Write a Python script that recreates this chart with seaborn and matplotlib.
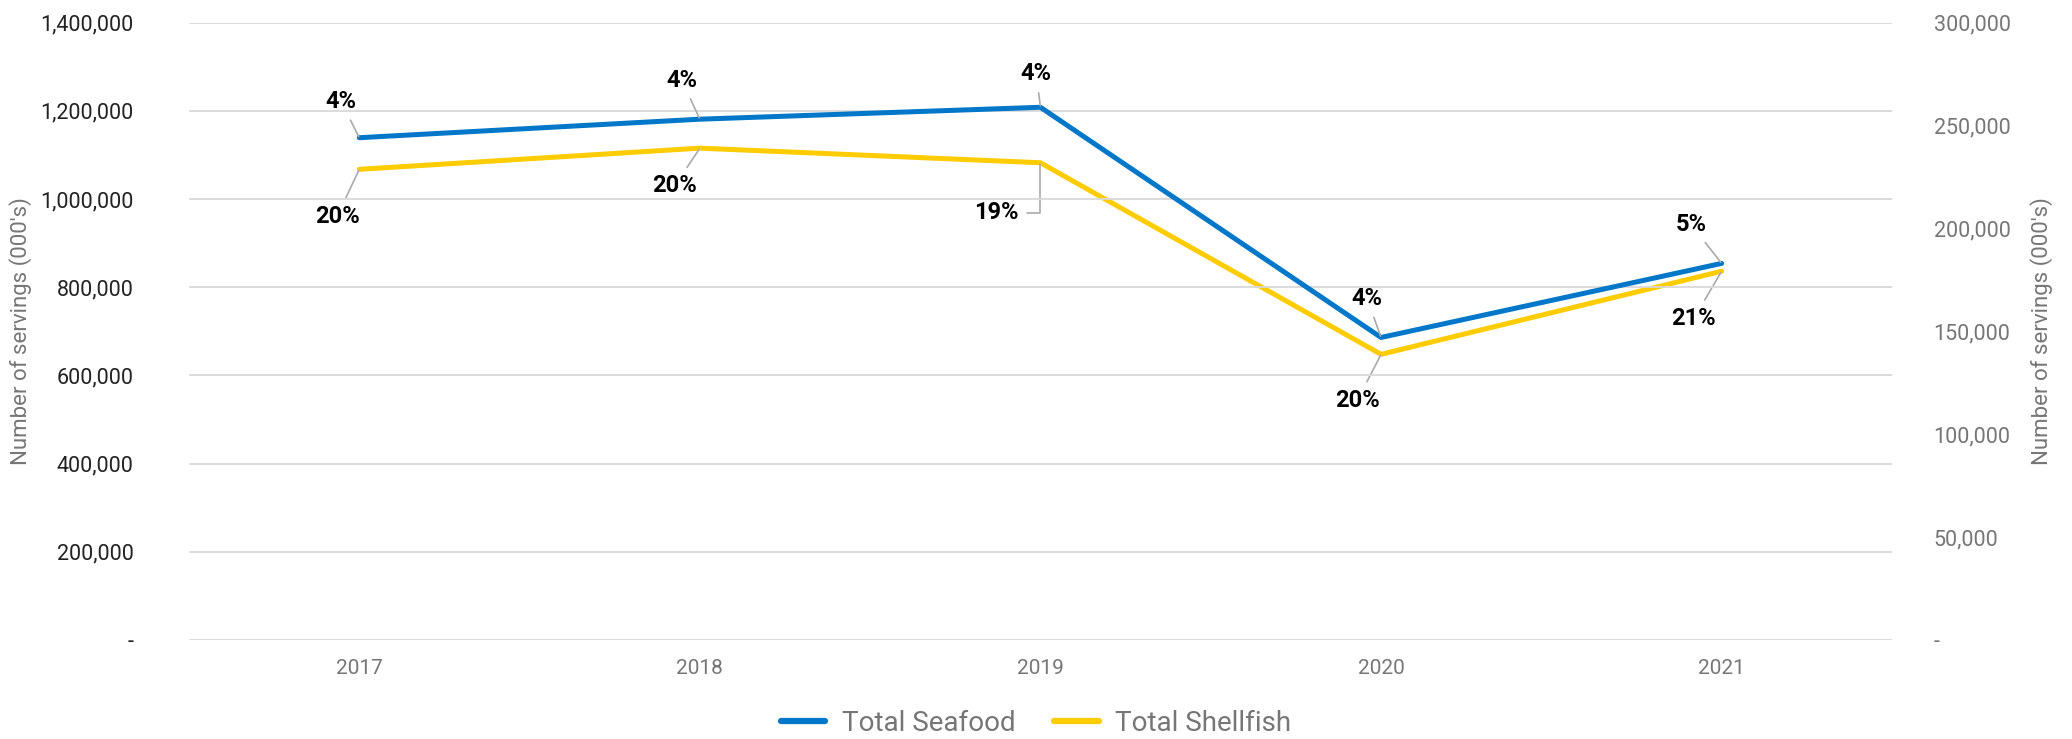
import pandas as pd
import matplotlib
matplotlib.use('Agg')
import matplotlib.pyplot as plt
import seaborn as sns
from matplotlib.ticker import FuncFormatter
from matplotlib.lines import Line2D

years = [2017, 2018, 2019, 2020, 2021]
seafood = [1139000, 1181000, 1208000, 686000, 854000]
shellfish = [228700, 239000, 231900, 138800, 179200]
seafood_labels = ['4%', '4%', '4%', '4%', '5%']
shellfish_labels = ['20%', '20%', '19%', '20%', '21%']

df = pd.DataFrame({'Year': years, 'Seafood': seafood, 'Shellfish': shellfish})

sns.set_style('white')
plt.rcParams['font.family'] = ['Roboto', 'DejaVu Sans']

blue = '#0077C8'
yellow = '#FFCC00'
grid_c = '#D9D9D9'
grey_txt = '#767676'

fig = plt.figure(figsize=(20.72, 7.39), dpi=100)
ax = fig.add_axes([0.0912, 0.134, 0.8219, 0.8354])
ax2 = ax.twinx()

sns.lineplot(data=df, x='Year', y='Seafood', ax=ax, color=blue, linewidth=3.6, legend=False)
sns.lineplot(data=df, x='Year', y='Shellfish', ax=ax2, color=yellow, linewidth=3.6, legend=False)
ax.set_zorder(ax2.get_zorder() + 1)
ax.patch.set_visible(False)

ax.set_xlim(years[0] - 0.5, years[-1] + 0.5)
ax.set_ylim(0, 1400000)
ax2.set_ylim(0, 300000)
ax.set_yticks(range(0, 1400001, 200000))
ax2.set_yticks(range(0, 300001, 50000))
ax.set_xticks(years)

fmt = FuncFormatter(lambda v, p: '-' if v == 0 else f'{v:,.0f}')
ax.yaxis.set_major_formatter(fmt)
ax2.yaxis.set_major_formatter(fmt)

ax.grid(axis='y', color=grid_c, linewidth=1.3)
ax.grid(axis='x', visible=False)
ax2.grid(False)
for a in (ax, ax2):
    for s in a.spines.values():
        s.set_visible(False)
    a.tick_params(length=0)

ax.tick_params(axis='y', labelsize=15.5, labelcolor='#222222', pad=40)
ax2.tick_params(axis='y', labelsize=15.5, labelcolor=grey_txt, pad=30)
ax.tick_params(axis='x', labelsize=15, labelcolor=grey_txt, pad=14)

ax.set_xlabel('')
ax.set_ylabel("Number of servings (000's)", fontsize=16, color=grey_txt, labelpad=6)
ax2.set_ylabel("Number of servings (000's)", fontsize=16, color=grey_txt, labelpad=14)

seafood_off = [(-13, 26), (-13, 28), (-3, 24), (-10, 28), (-22, 28)]
shell_off = [(-16, -34), (-18, -27), (-32, -36), (-17, -33), (-20, -34)]

for i, yr in enumerate(years):
    ax.annotate(seafood_labels[i], xy=(yr, seafood[i]), xytext=seafood_off[i],
                textcoords='offset points', ha='center', va='center',
                fontsize=17, fontweight='bold', color='black',
                arrowprops=dict(arrowstyle='-', color='#AAAAAA', lw=1.2,
                                shrinkA=3, shrinkB=1))
    if i == 2:
        props = dict(arrowstyle='-', color='#AAAAAA', lw=1.2, shrinkA=4, shrinkB=1,
                     relpos=(1, 0.5), connectionstyle='angle,angleA=0,angleB=90,rad=0')
    else:
        props = dict(arrowstyle='-', color='#AAAAAA', lw=1.2, shrinkA=3, shrinkB=1)
    ax2.annotate(shellfish_labels[i], xy=(yr, shellfish[i]), xytext=shell_off[i],
                 textcoords='offset points', ha='center', va='center',
                 fontsize=17, fontweight='bold', color='black', arrowprops=props)

handles = [Line2D([0], [0], color=blue, lw=4.5, solid_capstyle='round'),
           Line2D([0], [0], color=yellow, lw=4.5, solid_capstyle='round')]
leg = fig.legend(handles, ['Total Seafood', 'Total Shellfish'], loc='center',
                 bbox_to_anchor=(0.5, 0.021), ncol=2, frameon=False, fontsize=20,
                 handlelength=1.6, columnspacing=1.4, handletextpad=0.6)
for t in leg.get_texts():
    t.set_color(grey_txt)

fig.savefig('out.png', dpi=100)
